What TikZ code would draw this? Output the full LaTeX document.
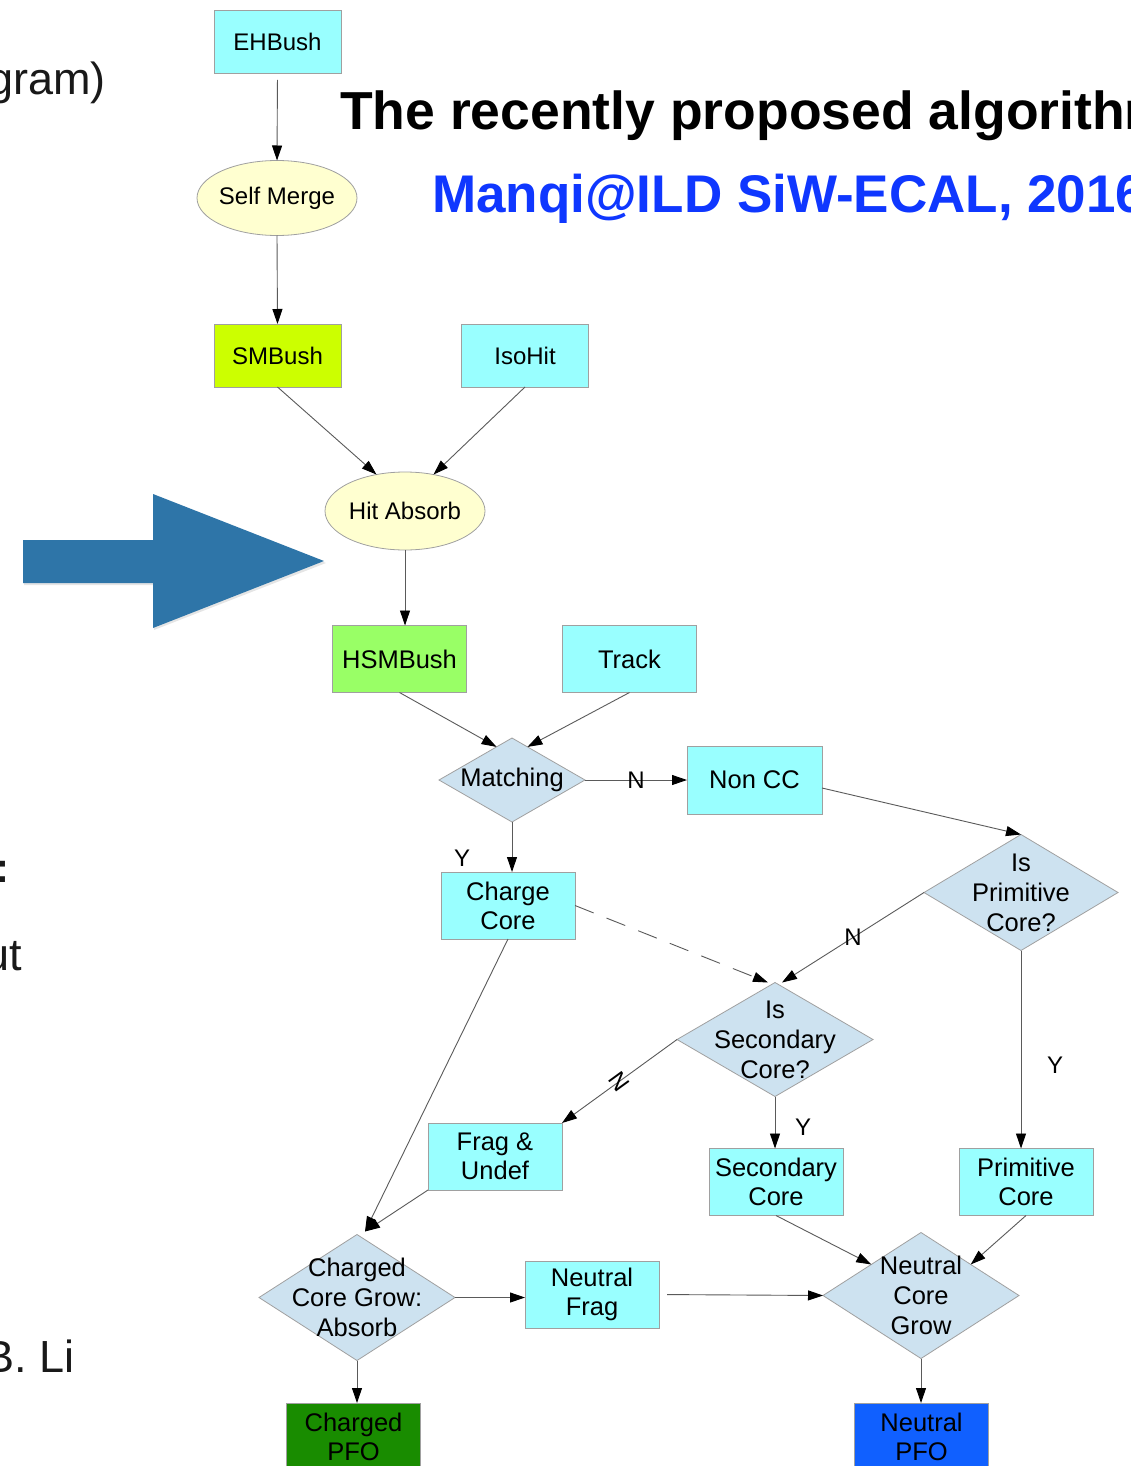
\documentclass[tikz,border=0pt]{standalone}
\usepackage{fontspec}
\setmainfont{Liberation Sans}
\usetikzlibrary{shapes.geometric,arrows.meta}
\definecolor{cyanfill}{RGB}{153,255,255}
\definecolor{bordergray}{RGB}{160,160,160}
\definecolor{ellfill}{RGB}{255,255,208}
\definecolor{diafill}{RGB}{205,226,240}
\definecolor{smbfill}{RGB}{204,255,0}
\definecolor{hsmfill}{RGB}{153,255,102}
\definecolor{cpfofill}{RGB}{25,140,0}
\definecolor{npfofill}{RGB}{16,96,255}
\definecolor{edgegray}{RGB}{90,90,90}
\definecolor{bigarrow}{RGB}{46,117,168}
\definecolor{titleblue}{RGB}{15,55,255}
\tikzset{
  topbox/.style={draw=bordergray, line width=0.8pt, fill=cyanfill, minimum width=127pt, minimum height=63pt, inner sep=0pt, outer sep=0pt, font=\fontsize{24}{29}\selectfont, align=center},
  lowbox/.style={topbox, minimum width=134pt, minimum height=67pt, font=\fontsize{25.5}{29}\selectfont},
  ell/.style={ellipse, draw=bordergray, fill=ellfill, line width=0.8pt, inner sep=0pt, outer sep=0pt},
  dia/.style={diamond, draw=bordergray, fill=diafill, line width=0.8pt, inner sep=0pt, outer sep=0pt},
  ntext/.style={font=\fontsize{25.5}{30}\selectfont, align=center, inner sep=0pt},
  etext/.style={font=\fontsize{24}{29}\selectfont, inner sep=0pt},
  lbl/.style={font=\fontsize{24}{29}\selectfont, inner sep=0pt},
  conn/.style={draw=edgegray, line width=0.9pt, -{Triangle[length=15pt,width=10pt,color=black]}},
  side/.style={font=\fontsize{45}{50}\selectfont, inner sep=0pt, text=black!90},
}
\begin{document}
\begin{tikzpicture}[x=1pt,y=-1pt]
\useasboundingbox (0,0) rectangle (1130,1466);
\clip (0,0) rectangle (1130,1466);
\fill[white] (0,0) rectangle (1130,1466);

% side texts (cut at the left edge, as in the reference)
\node[side, anchor=base east] (gram) at (106,95) {gram)};
\node[side, font=\fontsize{42}{48}\selectfont\bfseries, anchor=base east] (colon) at (10,882) {:};
\node[side, anchor=base east] (ut) at (22,970) {ut};
\node[side, anchor=base east] (li) at (75,1372) {B. Li};

% titles
\node[font=\fontsize{53.5}{60}\selectfont\bfseries, anchor=base west, inner sep=0pt] (title) at (340,130) {The recently proposed algorithm};
\node[font=\fontsize{53}{60}\selectfont\bfseries, text=titleblue, anchor=base west, inner sep=0pt] (sub) at (432,212) {Manqi@ILD SiW-ECAL, 2016};

% big blue arrow
\fill[black, opacity=0.10] (24,542) -- (154,542) -- (154,496) -- (326,563) -- (154,630) -- (154,585) -- (24,585) -- cycle;
\fill[bigarrow] (23,540) -- (153,540) -- (153,494) -- (324,561) -- (153,628) -- (153,583) -- (23,583) -- cycle;

% nodes
\node[topbox] (eh) at (277.5,41.5) {EHBush};
\node[ell, minimum width=160pt, minimum height=75pt] (sm) at (277,198) {};
\node[etext] (smt) at (sm) {Self Merge};
\node[topbox, fill=smbfill] (smb) at (277.5,355.5) {SMBush};
\node[topbox] (iso) at (525,355.5) {IsoHit};
\node[ell, minimum width=160pt, minimum height=78pt] (ha) at (405,511) {};
\node[etext] (hat) at (ha) {Hit Absorb};
\node[lowbox, fill=hsmfill] (hsm) at (399.5,659) {HSMBush};
\node[lowbox] (tr) at (629.5,659) {Track};
\node[dia, minimum width=146pt, minimum height=84pt] (mat) at (512,780) {};
\node[ntext] (matt) at (mat) {Matching};
\node[lowbox, minimum width=135pt, minimum height=68pt] (nc) at (754.5,780) {Non CC};
\node[lowbox] (cc) at (508,905.5) {Charge\\Core};
\node[dia, minimum width=194pt, minimum height=116pt] (ip) at (1021,892.5) {};
\node[ntext] (ipt) at (ip) {Is\\Primitive\\Core?};
\node[dia, minimum width=196pt, minimum height=114pt] (isc) at (775,1039.5) {};
\node[ntext] (isct) at (isc) {Is\\Secondary\\Core?};
\node[lowbox] (fu) at (495,1156.5) {Frag \&\\Undef};
\node[lowbox] (scn) at (776,1182) {Secondary\\Core};
\node[lowbox] (pc) at (1026,1182) {Primitive\\Core};
\node[dia, minimum width=196pt, minimum height=126pt] (ccg) at (357,1297.5) {};
\node[ntext] (ccgt) at (ccg) {Charged\\Core Grow:\\Absorb};
\node[lowbox] (nf) at (592,1294.5) {Neutral\\Frag};
\node[dia, minimum width=196pt, minimum height=126pt] (ncg) at (921,1295.5) {};
\node[ntext] (ncgt) at (ncg) {Neutral\\Core\\Grow};
\node[lowbox, fill=cpfofill] (cpfo) at (353.5,1436.5) {Charged\\PFO};
\node[lowbox, fill=npfofill] (npfo) at (921.5,1436.5) {Neutral\\PFO};

% connectors
\draw[conn, shorten <=7pt] (eh.south) -- (sm.north);
\draw[conn] (sm.south) -- (smb.north);
\draw[conn] (smb.south) -- (ha.128);
\draw[conn] (iso.south) -- (ha.52);
\draw[conn] (ha.south) -- (ha.south |- hsm.north);
\draw[conn] (hsm.south) -- (mat.115);
\draw[conn] (tr.south) -- (mat.65);
\draw[conn] (mat.east) -- node[lbl] (lN1) {N} (nc.west);
\draw[conn] (mat.south) -- (mat.south |- cc.north);
\node[lbl] (lY1) at (462,858) {Y};
\draw[conn] ([yshift=-8pt]nc.east) -- (ip.north);
\draw[conn, dash pattern=on 20pt off 14pt] (cc.east) -- ([xshift=-7pt]isc.north);
\draw[conn] (ip.west) -- node[lbl] (lN2) {N} ([xshift=7pt]isc.north);
\draw[conn] (ip.south) -- (ip.south |- pc.north);
\node[lbl] (lY2) at (1055,1065) {Y};
\draw[conn] (isc.west) -- node[lbl, rotate=-54] (lN3) {N} (fu.north east);
\draw[conn] (isc.south) -- (isc.south |- scn.north);
\node[lbl] (lY3) at (803,1127) {Y};
\draw[conn] (cc.south) -- ([xshift=8pt,yshift=3pt]ccg.north);
\draw[conn] (fu.south west) -- ([xshift=8pt,yshift=3pt]ccg.north);
\draw[conn] (scn.south) -- (ncg.148);
\draw[conn] (pc.south) -- (ncg.32);
\draw[conn] (ccg.east) -- (ccg.east -| nf.west);
\draw[conn, shorten <=8pt] (nf.east) -- (ncg.west);
\draw[conn] (ccg.south) -- (ccg.south |- cpfo.north);
\draw[conn] (ncg.south) -- (ncg.south |- npfo.north);
\end{tikzpicture}
\end{document}
